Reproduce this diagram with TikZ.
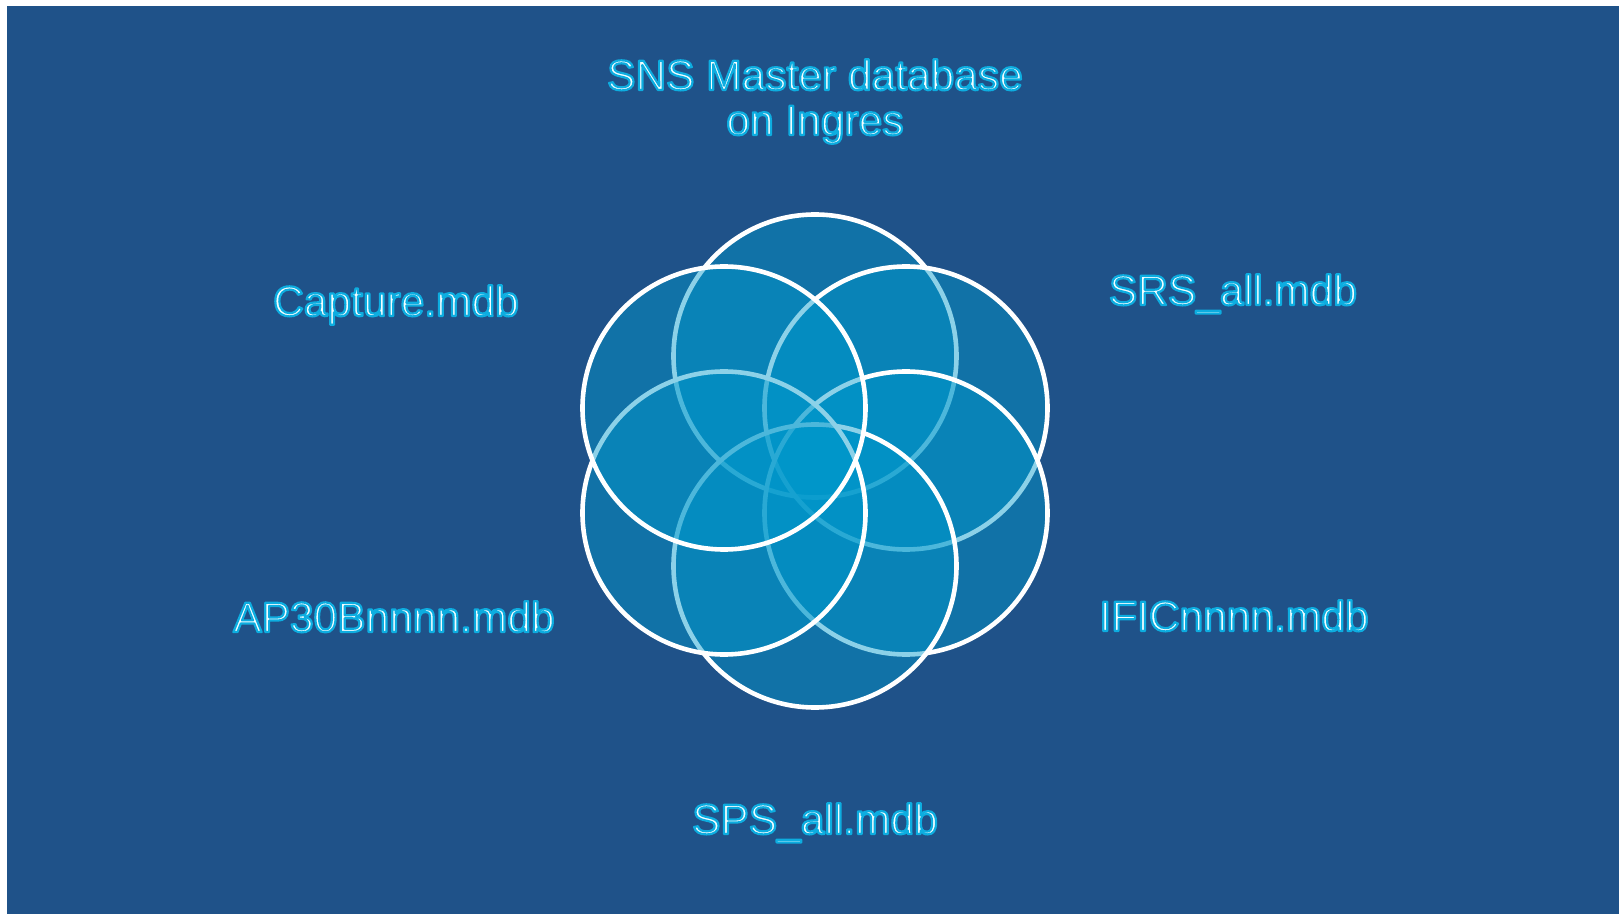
\documentclass[tikz,border=0pt]{standalone}
\usepackage{fontspec}
\setmainfont{Liberation Sans}
\definecolor{bgblue}{HTML}{1F5289}
\definecolor{petal}{HTML}{0099CC}
\definecolor{textcol}{HTML}{F2FDFF}
% outlined text: fill with the text colour, stroke the glyph outlines in cyan
\newcommand\outlined[1]{\special{pdf:literal direct 2 Tr 1 j 1.1 w 0.05 0.68 0.88 RG}#1\special{pdf:literal direct 0 Tr}}
\tikzset{
  petalcircle/.style={circle, inner sep=0pt, minimum size=141.5pt, fill=petal, fill opacity=0.45, draw=white, draw opacity=1, line width=2.3pt},
  lbl/.style={font=\fontsize{21.25}{22}\selectfont, anchor=base, inner sep=0pt, text=textcol},
}
\begin{document}
\begin{tikzpicture}[x=0.5pt,y=-0.5pt]
\useasboundingbox (0,0) rectangle (1619,914);
\fill[white] (0,0) rectangle (1619,914);
\fill[bgblue] (7,6) rectangle (1619,914);
% petals (drawing order gives the faded overlaps)
\node[petalcircle] (t)  at (815,356) {};
\node[petalcircle] (ur) at (906,408) {};
\node[petalcircle] (lr) at (906,513) {};
\node[petalcircle] (b)  at (815,566) {};
\node[petalcircle] (ll) at (724,513) {};
\node[petalcircle] (ul) at (724,408) {};
% labels
\node[lbl] (sns1) at (815,90) {\outlined{SNS Master database}};
\node[lbl] (sns2) at (815,135) {\outlined{on Ingres}};
\node[lbl] (capture) at (396,316) {\outlined{Capture.mdb}};
\node[lbl] (srs) at (1233,305) {\outlined{SRS\_all.mdb}};
\node[lbl] (ap) at (394,632) {\outlined{AP30Bnnnn.mdb}};
\node[lbl] (ific) at (1234,631) {\outlined{IFICnnnn.mdb}};
\node[lbl] (sps) at (815,834) {\outlined{SPS\_all.mdb}};
\end{tikzpicture}
\end{document}
